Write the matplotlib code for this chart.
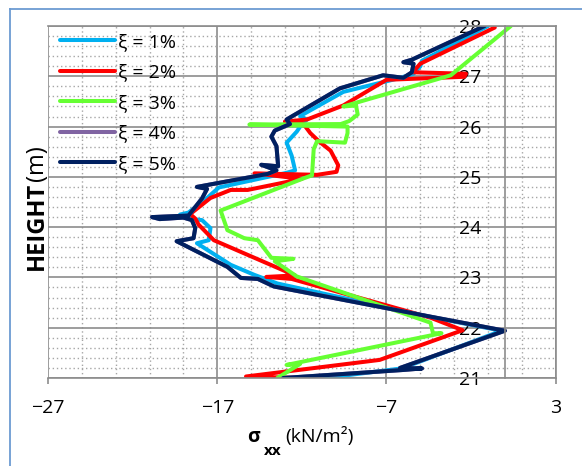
import matplotlib
matplotlib.use('Agg')
import matplotlib.pyplot as plt
from matplotlib.lines import Line2D
from matplotlib.ticker import MultipleLocator, FixedLocator

plt.rcParams['font.family'] = ['Open Sans', 'DejaVu Sans']

# sigma_xx (kN/m2) against height (m)
h1 = [28.0, 27.31, 27.2, 27.05, 26.95, 26.69, 26.21, 26.14, 26.05, 25.9, 25.68, 25.42, 25.13, 25.08,
      24.79, 24.58, 24.29, 24.25, 24.17, 24.14, 23.98, 23.74, 23.68, 23.25, 23.05, 22.88, 22.22,
      21.94, 21.19, 21.0]
s1 = [-1.0, -4.9, -5.0, -5.4, -6.4, -9.55, -12.1, -11.7, -12.0, -12.3, -12.9, -12.6, -12.4, -12.9,
      -16.9, -17.6, -18.7, -19.2, -18.7, -17.9, -17.4, -17.5, -18.2, -16.2, -14.8, -13.45, -4.5,
      -0.2, -6.1, -10.65]

h2 = [27.97, 27.25, 27.08, 27.05, 26.99, 26.93, 26.42, 26.14, 26.1, 26.05, 25.87, 25.71, 25.52,
      25.23, 25.1, 25.04, 25.07, 24.96, 24.87, 24.74, 24.74, 24.58, 24.26, 24.17, 24.05, 23.74,
      23.04, 23.01, 22.97, 22.2, 21.95, 21.36, 21.03, 21.0]
s2 = [-0.6, -5.0, -5.45, -2.3, -2.4, -7.0, -9.55, -11.7, -13.0, -11.9, -11.5, -11.0, -10.3,
      -9.85, -9.95, -11.1, -14.8, -12.0, -13.3, -15.2, -16.2, -17.4, -18.6, -18.3, -18.1, -17.2,
      -12.4, -14.1, -12.6, -4.4, -2.5, -7.4, -15.3, -12.0]

h3 = [28.0, 27.02, 26.4, 26.42, 26.24, 26.11, 26.05, 26.04, 26.0, 25.87, 25.68, 25.71, 25.55,
      25.03, 24.97, 24.33, 23.94, 23.78, 23.74, 23.39, 23.37, 23.32, 23.02, 22.1, 21.89, 21.89,
      21.26, 21.28, 21.0]
s3 = [0.35, -3.2, -9.55, -8.8, -8.7, -9.2, -9.7, -15.1, -9.3, -9.3, -9.45, -11.1, -11.3,
      -11.4, -11.9, -16.8, -16.4, -15.4, -14.6, -13.8, -12.5, -13.6, -12.3, -4.4, -4.25, -3.75,
      -12.9, -12.1, -13.45]

h5 = [28.0, 27.33, 27.28, 27.25, 27.08, 26.97, 27.02, 26.76, 26.22, 26.14, 26.05, 25.92, 25.8,
      25.61, 25.21, 25.24, 25.13, 25.06, 24.8, 24.76, 24.57, 24.23, 24.2, 24.16, 24.19, 24.14,
      23.98, 23.78, 23.72, 23.21, 22.99, 22.97, 22.82, 22.22, 21.94, 21.2, 21.19, 21.16, 21.0]
s5 = [-1.2, -5.5, -6.0, -5.4, -5.5, -6.0, -7.2, -9.75, -12.5, -12.9, -12.7, -13.6, -13.8,
      -13.5, -13.4, -14.4, -13.5, -14.0, -18.2, -17.6, -17.9, -18.7, -20.85, -20.4, -19.0, -18.5,
      -18.3, -18.4, -19.4, -16.4, -15.6, -14.6, -13.65, -4.4, 0.0, -6.2, -4.9, -6.0, -13.1]

# 4% is hidden under 5% in the reference
h4 = list(h5)
s4 = list(s5)

labels = ['ξ = 1%', 'ξ = 2%', 'ξ = 3%', 'ξ = 4%', 'ξ = 5%']
colors = ['#00B0F0', '#FF0000', '#66FF33', '#8064A2', '#002060']

xticks = [-27, -17, -7, 3]
yticks = [21, 22, 23, 24, 25, 26, 27, 28]

W, H = 582, 466
fig = plt.figure(figsize=(W / 100, H / 100), dpi=100)
ax = fig.add_axes([48 / W, (H - 378) / H, (555.7 - 48) / W, (378 - 26) / H])

gridGray = '#8C8C8C'
ax.set_xlim(-27, 3)
ax.set_ylim(21, 28)
ax.xaxis.set_major_locator(FixedLocator(xticks))
ax.xaxis.set_minor_locator(MultipleLocator(2, offset=1))
ax.yaxis.set_major_locator(FixedLocator(yticks))
ax.yaxis.set_minor_locator(MultipleLocator(0.2))
ax.grid(which='major', color=gridGray, lw=1.2, ls='-')
ax.grid(which='minor', color='#A6A6A6', lw=1.0, ls=(0, (1, 2)))
ax.set_axisbelow(True)

for name in ['top', 'right', 'bottom', 'left']:
  ax.spines[name].set_color(gridGray)
  ax.spines[name].set_linewidth(1.2)
ax.spines['left'].set_position(('data', 0))

ax.tick_params(axis='x', which='major', direction='out', length=4, width=1.2, color=gridGray,
               labelsize=14, pad=11)
ax.tick_params(axis='y', which='major', length=0, labelsize=14, pad=17)
ax.tick_params(which='minor', length=0)

for hs, ss, lab, col in zip([h1, h2, h3, h4, h5], [s1, s2, s3, s4, s5], labels, colors):
  ax.plot(ss, hs, color=col, lw=2.9, label=lab, solid_joinstyle='round', solid_capstyle='round')

ax.legend(loc='upper left', bbox_to_anchor=(60 / W, 1 - 33 / H), bbox_transform=fig.transFigure,
          frameon=False, borderpad=0, borderaxespad=0, handlelength=2.85, handletextpad=0.15,
          labelspacing=0.64, fontsize=14)

# axis titles, pieced together for the bold parts
fig.text(254 / W, 1 - 442 / H, 'σ', fontsize=14, fontweight='bold', ha='center', va='baseline')
fig.text(264 / W, 1 - 455 / H, 'xx', fontsize=11, fontweight='bold', ha='left', va='baseline')
fig.text(285 / W, 1 - 442 / H, '(kN/m²)', fontsize=14, ha='left', va='baseline')

fig.text(43 / W, 1 - 226 / H, 'HEIGHT', fontsize=17, fontweight='bold', rotation=90,
         rotation_mode='anchor', ha='center', va='baseline')
fig.text(43 / W, 1 - 163 / H, '(m)', fontsize=17, rotation=90,
         rotation_mode='anchor', ha='center', va='baseline')

# outer chart frame (only left and top edges show)
frameBlue = '#6C9BD2'
fig.add_artist(Line2D([10 / W, 10 / W], [0, 1 - 9 / H], color=frameBlue, lw=1.3))
fig.add_artist(Line2D([10 / W, 1], [1 - 9 / H, 1 - 9 / H], color=frameBlue, lw=1.3))

fig.savefig('out.png', dpi=100)
plt.close()
